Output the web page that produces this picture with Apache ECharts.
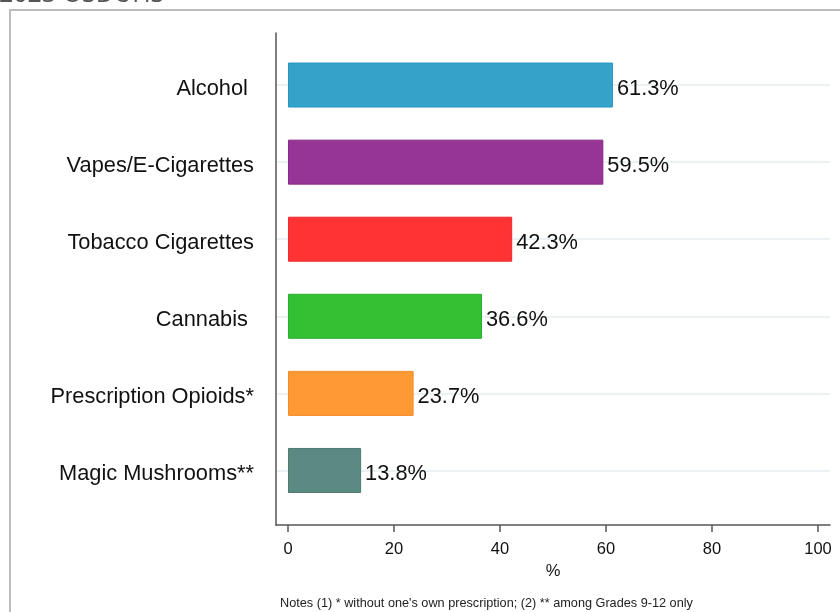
<!DOCTYPE html>
<html>
<head>
<meta charset="utf-8">
<script src="https://cdn.jsdelivr.net/npm/echarts@6/dist/echarts.min.js"></script>
<style>html,body{margin:0;padding:0;background:#fff;}#c{width:840px;height:612px;}</style>
</head>
<body>
<div id="c"></div>
<script>
const titleText = '2023 OSDUHS';
const notesText = "Notes (1) * without one's own prescription; (2) ** among Grades 9-12 only";
const categories = ['Alcohol ', 'Vapes/E-Cigarettes', 'Tobacco Cigarettes', 'Cannabis ', 'Prescription Opioids*', 'Magic Mushrooms**'];
const values = [61.3, 59.5, 42.3, 36.6, 23.7, 13.8];
const barColors = ['#35A2CA', '#973597', '#FF3333', '#33C033', '#FF9933', '#5B8A83'];
const barBorders = ['#2494C0', '#88288A', '#EE2A2F', '#2AAE2A', '#F28A26', '#4B7A72'];
const xTicks = [0, 20, 40, 60, 80, 100];
const xName = '%';

const FONT = 'Liberation Sans, Arial, sans-serif';
const chart = echarts.init(document.getElementById('c'), null, {renderer: 'canvas'});
const xMin = -2.26, xMax = 102.26;

chart.setOption({
  animation: false,
  backgroundColor: '#fff',
  title: [
    {text: notesText, left: 280, top: 597, padding: 0,
     textStyle: {fontFamily: FONT, fontSize: 12.7, fontWeight: 'normal', color: '#222'}}
  ],
  graphic: [
    {type: 'rect', shape: {x: 10, y: 10, width: 1000, height: 1000},
     style: {fill: 'none', stroke: '#BDBDBD', lineWidth: 2}, silent: true, z: -10},
    {type: 'text', left: -1, top: -18,
     style: {text: titleText, fontSize: 25, fontFamily: 'Open Sans, sans-serif', fill: '#555'}, silent: true}
  ],
  grid: [
    {left: 276, right: 10, top: 33, bottom: 87, containLabel: false},
    {left: 276, right: 10, top: 46.5, bottom: 103, containLabel: false}
  ],
  xAxis: [
    {gridIndex: 0, type: 'value', min: xMin, max: xMax,
     name: xName, nameLocation: 'middle', nameGap: 29,
     nameTextStyle: {fontFamily: FONT, fontSize: 16.5, color: '#111'},
     axisLine: {show: true, onZero: false, lineStyle: {color: '#555', width: 1.5}},
     axisTick: {show: true, length: 7, inside: false, customValues: xTicks, lineStyle: {color: '#555', width: 1.5}},
     axisLabel: {show: true, customValues: xTicks, margin: 16, fontFamily: FONT, fontSize: 16.5, color: '#111'},
     splitLine: {show: false}},
    {gridIndex: 1, type: 'value', min: xMin, max: xMax, show: false,
     axisLine: {show: false}, axisTick: {show: false}, axisLabel: {show: false}, splitLine: {show: false}}
  ],
  yAxis: [
    {gridIndex: 0, type: 'value', min: 0, max: 1,
     axisLine: {show: true, onZero: false, lineStyle: {color: '#555', width: 1.5}},
     axisTick: {show: false}, axisLabel: {show: false}, splitLine: {show: false}},
    {gridIndex: 1, type: 'category', data: categories, inverse: true,
     axisLine: {show: false}, axisTick: {show: false},
     axisLabel: {show: true, margin: 22, fontFamily: FONT, fontSize: 21.8, color: '#111',
       verticalAlign: 'top', lineHeight: 7},
     splitLine: {show: false}}
  ],
  series: [
    {type: 'line', xAxisIndex: 1, yAxisIndex: 1, z: 1, silent: true, symbol: 'none',
     data: [], markLine: {
       silent: true, z: 0, symbol: ['none', 'none'], label: {show: false},
       lineStyle: {color: '#E6EDF1', width: 1.5, type: 'solid'},
       data: categories.map(c => ({yAxis: c}))
     }},
    {type: 'bar', xAxisIndex: 1, yAxisIndex: 1, z: 3, barWidth: 45,
     data: values.map((v, i) => ({value: v, itemStyle: {color: barColors[i], borderColor: barBorders[i], borderWidth: 1}})),
     label: {show: true, position: 'right', distance: 4, fontFamily: FONT, fontSize: 21.8, color: '#111',
       offset: [0, 3.5], formatter: p => p.value.toFixed(1) + '%'}}
  ]
});
</script>
</body>
</html>
